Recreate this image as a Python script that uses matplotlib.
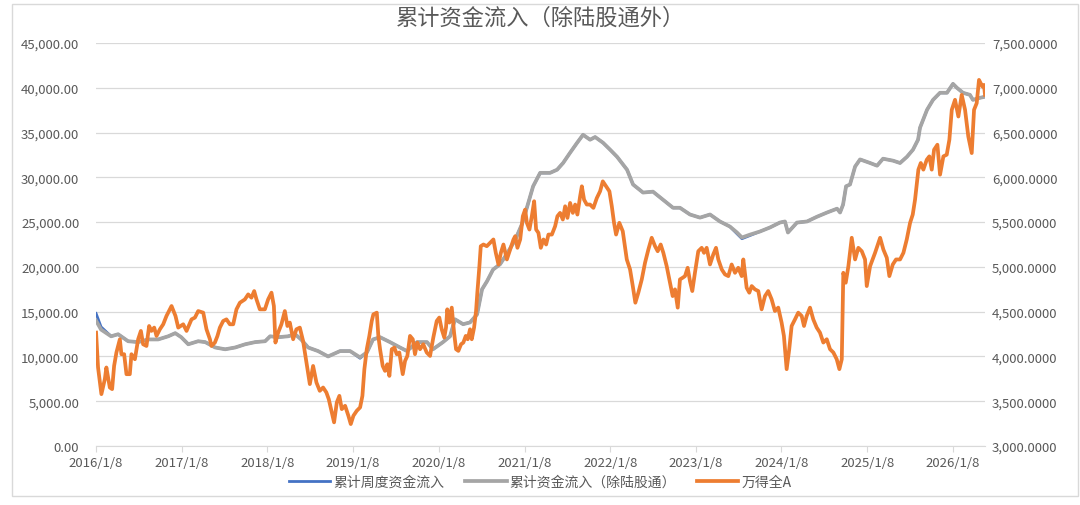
import datetime as dt
import matplotlib
matplotlib.use("Agg")
import matplotlib.pyplot as plt
from matplotlib.ticker import FuncFormatter, MultipleLocator
from matplotlib.patches import Rectangle

plt.rcParams['font.family'] = ['Noto Sans CJK SC', 'DejaVu Sans']

# 资金流入（左轴），时间为小数年份
t_flow = [2016.020, 2016.078, 2016.195, 2016.277, 2016.393, 2016.510, 2016.627, 2016.743, 2016.860, 2016.942,
          2017.012, 2017.094, 2017.210, 2017.292, 2017.409, 2017.525, 2017.642, 2017.759, 2017.875, 2017.992,
          2018.050, 2018.144, 2018.260, 2018.342, 2018.412, 2018.494, 2018.610, 2018.727, 2018.867, 2018.984,
          2019.100, 2019.182, 2019.252, 2019.334, 2019.450, 2019.567, 2019.649, 2019.766, 2019.882, 2019.952,
          2020.069, 2020.151, 2020.209, 2020.303, 2020.384, 2020.466, 2020.524, 2020.582, 2020.652, 2020.734,
          2020.816, 2020.909, 2020.990, 2021.049, 2021.119, 2021.201, 2021.317, 2021.399, 2021.469, 2021.551,
          2021.633, 2021.702, 2021.784, 2021.843, 2021.936, 2022.018, 2022.099, 2022.216, 2022.286, 2022.403,
          2022.519, 2022.636, 2022.753, 2022.834, 2022.951, 2023.068, 2023.185, 2023.301, 2023.418, 2023.500,
          2023.558, 2023.651, 2023.768, 2023.885, 2024.001, 2024.060, 2024.095, 2024.200, 2024.317, 2024.433,
          2024.550, 2024.667, 2024.702, 2024.737, 2024.772, 2024.818, 2024.877, 2024.935, 2025.052, 2025.133,
          2025.203, 2025.320, 2025.402, 2025.483, 2025.553, 2025.612, 2025.635, 2025.717, 2025.787, 2025.868,
          2025.950, 2026.020, 2026.067, 2026.137, 2026.218, 2026.253, 2026.335, 2026.394]

flow_total = [14000, 13000, 12250, 12480, 11700, 11600, 11900, 11900, 12250, 12600,
              12150, 11360, 11700, 11600, 11000, 10800, 11000, 11360, 11600, 11700,
              12250, 12150, 12250, 12480, 11900, 11000, 10600, 10000, 10600, 10600,
              9900, 10470, 11900, 12150, 11600, 11000, 10600, 11600, 11600, 10800,
              11600, 12250, 14150, 13600, 13800, 14700, 17500, 18400, 19700, 20300,
              21500, 23000, 24800, 26700, 29000, 30500, 30500, 30850, 31600, 32750,
              33860, 34750, 34200, 34500, 33860, 33090, 32300, 30850, 29200, 28300,
              28400, 27500, 26600, 26600, 25850, 25500, 25850, 25070, 24500, 23840,
              23280, 23600, 23950, 24400, 24950, 25070, 23840, 24950, 25070, 25600,
              26070, 26500, 26070, 26950, 29000, 29200, 31200, 32000, 31600, 31300,
              32080, 31860, 31600, 32300, 33090, 34200, 35540, 37540, 38650, 39440,
              39440, 40440, 39990, 39440, 39210, 38650, 38880, 39000]

flow_weekly = [14800, 13300, 12250, 12480, 11700, 11600, 11900, 11900, 12250, 12600,
               12150, 11360, 11700, 11600, 11000, 10800, 11000, 11360, 11600, 11700,
               12250, 12150, 12250, 12480, 11900, 11000, 10600, 10000, 10600, 10600,
               9800, 10470, 11900, 12150, 11600, 11000, 10600, 11600, 11600, 10800,
               11600, 12250, 14150, 13600, 13800, 14700, 17500, 18400, 19700, 20300,
               21500, 23000, 24800, 26700, 29000, 30500, 30500, 30850, 31600, 32750,
               33860, 34750, 34200, 34500, 33860, 33090, 32300, 30850, 29200, 28300,
               28400, 27500, 26600, 26600, 25850, 25500, 25850, 25070, 24500, 23700,
               23150, 23500, 23950, 24400, 24950, 25070, 23840, 24950, 25070, 25600,
               26070, 26500, 26070, 26950, 29000, 29200, 31200, 32000, 31600, 31300,
               32080, 31860, 31600, 32300, 33090, 34200, 35540, 37540, 38650, 39440,
               39440, 40440, 39990, 39440, 39210, 38650, 38880, 39000]

# 万得全A（右轴）
t_wind = [2016.020, 2016.043, 2016.082, 2016.122, 2016.140, 2016.180, 2016.207, 2016.230, 2016.257, 2016.297,
          2016.315, 2016.347, 2016.374, 2016.413, 2016.432, 2016.472, 2016.510, 2016.542, 2016.568, 2016.607,
          2016.638, 2016.665, 2016.697, 2016.724, 2016.763, 2016.802, 2016.840, 2016.899, 2016.945, 2016.977,
          2017.035, 2017.074, 2017.132, 2017.172, 2017.210, 2017.269, 2017.307, 2017.347, 2017.365, 2017.405,
          2017.435, 2017.463, 2017.502, 2017.540, 2017.580, 2017.619, 2017.657, 2017.697, 2017.755, 2017.794,
          2017.832, 2017.864, 2017.891, 2017.930, 2017.989, 2018.027, 2018.066, 2018.094, 2018.112, 2018.144,
          2018.182, 2018.222, 2018.252, 2018.280, 2018.319, 2018.357, 2018.397, 2018.435, 2018.474, 2018.514,
          2018.552, 2018.591, 2018.630, 2018.669, 2018.707, 2018.735, 2018.766, 2018.797, 2018.829, 2018.859,
          2018.887, 2018.926, 2018.964, 2018.992, 2019.023, 2019.062, 2019.101, 2019.128, 2019.151, 2019.179,
          2019.209, 2019.237, 2019.256, 2019.296, 2019.314, 2019.334, 2019.365, 2019.392, 2019.419, 2019.443,
          2019.471, 2019.501, 2019.529, 2019.559, 2019.599, 2019.626, 2019.653, 2019.684, 2019.716, 2019.742,
          2019.769, 2019.801, 2019.839, 2019.879, 2019.918, 2019.956, 2019.996, 2020.026, 2020.054, 2020.084,
          2020.104, 2020.119, 2020.143, 2020.171, 2020.198, 2020.221, 2020.248, 2020.279, 2020.306, 2020.334,
          2020.357, 2020.384, 2020.404, 2020.431, 2020.454, 2020.469, 2020.493, 2020.509, 2020.540, 2020.579,
          2020.618, 2020.656, 2020.684, 2020.715, 2020.743, 2020.773, 2020.813, 2020.851, 2020.890, 2020.910,
          2020.936, 2020.968, 2020.999, 2021.026, 2021.046, 2021.076, 2021.104, 2021.131, 2021.154, 2021.181,
          2021.209, 2021.240, 2021.271, 2021.298, 2021.338, 2021.376, 2021.403, 2021.434, 2021.466, 2021.493,
          2021.520, 2021.551, 2021.583, 2021.610, 2021.636, 2021.668, 2021.688, 2021.714, 2021.746, 2021.784,
          2021.823, 2021.863, 2021.901, 2021.933, 2021.971, 2022.010, 2022.038, 2022.064, 2022.088, 2022.126,
          2022.166, 2022.213, 2022.251, 2022.283, 2022.313, 2022.348, 2022.388, 2022.426, 2022.465, 2022.504,
          2022.543, 2022.574, 2022.609, 2022.640, 2022.679, 2022.718, 2022.749, 2022.776, 2022.808, 2022.834,
          2022.866, 2022.893, 2022.924, 2022.951, 2022.978, 2023.009, 2023.048, 2023.088, 2023.115, 2023.146,
          2023.185, 2023.223, 2023.255, 2023.282, 2023.322, 2023.360, 2023.399, 2023.438, 2023.477, 2023.515,
          2023.555, 2023.574, 2023.613, 2023.644, 2023.672, 2023.710, 2023.749, 2023.788, 2023.827, 2023.865,
          2023.905, 2023.943, 2023.982, 2024.021, 2024.048, 2024.080, 2024.110, 2024.138, 2024.177, 2024.215,
          2024.255, 2024.282, 2024.313, 2024.352, 2024.390, 2024.430, 2024.468, 2024.507, 2024.547, 2024.585,
          2024.624, 2024.663, 2024.694, 2024.722, 2024.740, 2024.768, 2024.799, 2024.838, 2024.877, 2024.915,
          2024.955, 2024.993, 2025.013, 2025.052, 2025.110, 2025.169, 2025.207, 2025.247, 2025.277, 2025.317,
          2025.355, 2025.402, 2025.441, 2025.480, 2025.519, 2025.550, 2025.577, 2025.616, 2025.644, 2025.674,
          2025.714, 2025.744, 2025.772, 2025.799, 2025.838, 2025.869, 2025.908, 2025.947, 2025.978, 2026.006,
          2026.044, 2026.083, 2026.122, 2026.161, 2026.199, 2026.239, 2026.266, 2026.297, 2026.324, 2026.363,
          2026.382, 2026.394]

wind_a = [4266, 3877, 3579, 3746, 3877, 3653, 3635, 3894, 4044, 4192,
          4025, 4025, 3802, 3802, 4025, 3969, 4192, 4285, 4136, 4117,
          4340, 4285, 4322, 4229, 4303, 4359, 4452, 4563, 4452, 4322,
          4359, 4285, 4414, 4434, 4507, 4489, 4303, 4192, 4117, 4155,
          4229, 4322, 4396, 4414, 4359, 4359, 4526, 4600, 4637, 4693,
          4656, 4730, 4637, 4526, 4526, 4637, 4712, 4563, 4155, 4266,
          4359, 4507, 4340, 4378, 4192, 4303, 4322, 4173, 3932, 3691,
          3894, 3709, 3616, 3653, 3598, 3523, 3393, 3264, 3487, 3560,
          3412, 3449, 3338, 3245, 3338, 3393, 3431, 3560, 3858, 4081,
          4229, 4396, 4470, 4489, 4229, 4081, 3894, 3839, 3913, 3783,
          4081, 4099, 4025, 4044, 3802, 3950, 4006, 4229, 4192, 4025,
          4155, 4081, 4136, 4044, 4006, 4211, 4396, 4434, 4303, 4211,
          4322, 4526, 4378, 4545, 4266, 4081, 4062, 4136, 4155, 4229,
          4192, 4303, 4192, 4322, 4507, 4712, 5008, 5231, 5250, 5231,
          5269, 5306, 5157, 5027, 5157, 5250, 5083, 5194, 5306, 5343,
          5213, 5306, 5566, 5640, 5492, 5417, 5566, 5733, 5417, 5380,
          5213, 5306, 5250, 5361, 5361, 5454, 5566, 5603, 5529, 5677,
          5547, 5714, 5603, 5696, 5584, 5788, 5900, 5751, 5696, 5696,
          5659, 5769, 5844, 5955, 5900, 5844, 5677, 5492, 5361, 5492,
          5398, 5083, 4972, 4786, 4600, 4712, 4860, 5046, 5194, 5325,
          5231, 5175, 5250, 5157, 5008, 4823, 4674, 4749, 4545, 4860,
          4879, 4897, 4990, 4841, 4730, 4934, 5175, 5213, 5157, 5213,
          5027, 5139, 5213, 5083, 4972, 4916, 4897, 5027, 4934, 4990,
          4897, 5083, 4767, 4712, 4786, 4749, 4730, 4526, 4674, 4730,
          4637, 4507, 4545, 4378, 4229, 3858, 4081, 4340, 4414, 4489,
          4452, 4340, 4452, 4545, 4414, 4322, 4266, 4155, 4192, 4081,
          4044, 3969, 3858, 3969, 4934, 4823, 5008, 5325, 5083, 5213,
          5175, 5083, 4786, 5008, 5157, 5325, 5194, 5102, 4897, 5027,
          5083, 5083, 5157, 5306, 5492, 5584, 5751, 6086, 6160, 6086,
          6197, 6234, 6086, 6308, 6364, 6030, 6234, 6253, 6420, 6754,
          6866, 6679, 6921, 6754, 6456, 6271, 6754, 6828, 7088, 7014,
          7032, 6921]

year_ticks = list(range(2016, 2027))


def to_date(t):
    y = int(t)
    start = dt.datetime(y, 1, 1)
    days = (dt.datetime(y + 1, 1, 1) - start).days
    return start + dt.timedelta(days=(t - y) * days)


d_flow = [to_date(t) for t in t_flow]
d_wind = [to_date(t) for t in t_wind]

text_c = '#595959'
grid_c = '#D9D9D9'

fig = plt.figure(figsize=(10.8, 5.06), dpi=100)
ax = fig.add_axes([96 / 1080, 1 - 447 / 506, (985 - 96) / 1080, (447 - 44) / 506])
ax2 = ax.twinx()

l1, = ax.plot(d_flow, flow_weekly, color='#4472C4', lw=2.0, label='累计周度资金流入')
l2, = ax.plot(d_flow, flow_total, color='#A5A5A5', lw=2.7, label='累计资金流入（除陆股通）')
l3, = ax2.plot(d_wind, wind_a, color='#ED7D31', lw=2.7, label='万得全A')

ax.set_ylim(0, 45000)
ax2.set_ylim(3000, 7500)
ax.yaxis.set_major_locator(MultipleLocator(5000))
ax2.yaxis.set_major_locator(MultipleLocator(500))
ax.yaxis.set_major_formatter(FuncFormatter(lambda v, p: f'{v:,.2f}'))
ax2.yaxis.set_major_formatter(FuncFormatter(lambda v, p: f'{v:,.4f}'))

ax.set_xlim(d_flow[0], d_flow[-1])
ticks = [dt.datetime(y, 1, 8) for y in year_ticks]
ax.set_xticks(ticks)
ax.set_xticklabels([f'{d.year}/{d.month}/{d.day}' for d in ticks])

ax.grid(axis='y', color=grid_c, lw=0.9)
ax.set_axisbelow(True)
for a in (ax, ax2):
    for s in ('top', 'left', 'right'):
        a.spines[s].set_visible(False)
    a.spines['bottom'].set_color(grid_c)
ax2.spines['bottom'].set_visible(False)

ax.tick_params(axis='y', length=0, pad=12, labelsize=9.5, labelcolor=text_c)
ax2.tick_params(axis='y', length=0, pad=5, labelsize=9.5, labelcolor=text_c)
ax.tick_params(axis='x', length=4, color=grid_c, pad=3, labelsize=9.5, labelcolor=text_c)

fig.text(0.5, 1 - 18 / 506, '累计资金流入（除陆股通外）', ha='center', va='center',
         fontsize=16, color=text_c)

fig.legend(handles=[l1, l2, l3], loc='center', bbox_to_anchor=(0.5, 1 - 483 / 506),
           ncol=3, frameon=False, fontsize=10, labelcolor=text_c, handlelength=3.0,
           columnspacing=1.5, handletextpad=0.2)

fig.patches.append(Rectangle((12 / 1080, 1 - 497 / 506), 1066 / 1080, 492 / 506,
                             transform=fig.transFigure, fill=False, edgecolor=grid_c, lw=1))

fig.savefig('out.png', dpi=100)
